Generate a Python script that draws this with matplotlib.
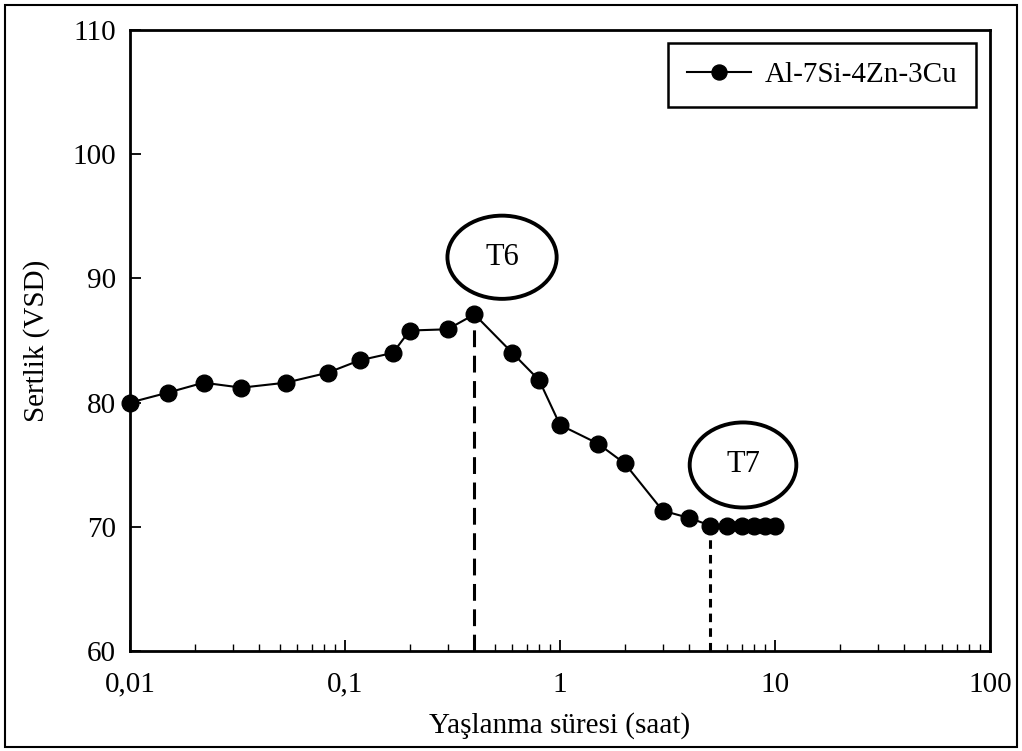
import matplotlib.pyplot as plt
from matplotlib.patches import Ellipse, Rectangle
from matplotlib.ticker import FixedLocator, LogLocator, NullFormatter

plt.rcParams['font.family'] = ['Liberation Serif', 'DejaVu Serif']

# yaslanma suresi (saat) ve sertlik (VSD)
sure = [0.01, 0.015, 0.022, 0.033, 0.053, 0.083, 0.117, 0.167, 0.2, 0.3, 0.4,
        0.6, 0.8, 1, 1.5, 2, 3, 4, 5, 6, 7, 8, 9, 10]
sertlik = [80.0, 80.8, 81.6, 81.2, 81.6, 82.4, 83.4, 84.0, 85.8, 85.9, 87.1,
           84.0, 81.8, 78.2, 76.7, 75.1, 71.3, 70.7, 70.1, 70.1, 70.1, 70.1, 70.1, 70.1]
seri_adi = 'Al-7Si-4Zn-3Cu'

# T6 / T7 noktalari
t6_sure, t6_sertlik = 0.4, 87.1
t7_sure, t7_sertlik = 5, 70.1

x_ticks = [0.01, 0.1, 1, 10, 100]
x_labels = ['0,01', '0,1', '1', '10', '100']
y_ticks = [60, 70, 80, 90, 100, 110]

fig = plt.figure(figsize=(10.22, 7.51), dpi=100)
ax = fig.add_axes([0.1272, 0.1332, 0.8415, 0.8269])

# dis cerceve
fig.patches.append(Rectangle((0.005, 0.005), 0.990, 0.988, transform=fig.transFigure,
                             fill=False, edgecolor='black', linewidth=1.5))

ax.plot(sure, sertlik, color='black', linewidth=1.5, marker='o', markersize=12,
        label=seri_adi, clip_on=False, zorder=3)

ax.plot([t6_sure, t6_sure], [60, t6_sertlik], color='black', linewidth=2.2,
        linestyle=(0, (5.5, 2.8)), zorder=2)
ax.plot([t7_sure, t7_sure], [60, t7_sertlik], color='black', linewidth=2.2,
        linestyle=(0, (2.8, 2.0)), zorder=2)

for (cx, cy, w, h, txt) in [(0.4326, 0.634, 0.127, 0.134, 'T6'),
                            (0.7128, 0.2995, 0.124, 0.137, 'T7')]:
    ax.add_patch(Ellipse((cx, cy), w, h, transform=ax.transAxes, fill=False,
                         edgecolor='black', linewidth=2.8, zorder=4))
    ax.text(cx, cy, txt, transform=ax.transAxes, ha='center', va='center',
            fontsize=22, zorder=5)

ax.set_xscale('log')
ax.set_xlim(0.01, 100)
ax.set_ylim(60, 110)
ax.xaxis.set_major_locator(FixedLocator(x_ticks))
ax.set_xticklabels(x_labels)
ax.xaxis.set_minor_locator(LogLocator(base=10, subs=range(2, 10)))
ax.xaxis.set_minor_formatter(NullFormatter())
ax.set_yticks(y_ticks)

ax.tick_params(axis='both', which='major', direction='in', length=8, width=1.3,
               labelsize=21, colors='black')
ax.tick_params(axis='x', which='major', pad=15)
ax.tick_params(axis='y', which='major', pad=10)
ax.tick_params(axis='x', which='minor', direction='in', length=5, width=1.0)
ax.tick_params(axis='y', which='minor', left=False)

for s in ax.spines.values():
    s.set_linewidth(2.0)

ax.set_xlabel('Yaşlanma süresi (saat)', fontsize=21, labelpad=10)
ax.set_ylabel('Sertlik (VSD)', fontsize=21, labelpad=16)

leg = ax.legend(loc='upper right', fontsize=21, fancybox=False, frameon=True,
                edgecolor='black', framealpha=1, handlelength=2.2,
                handletextpad=0.45, borderpad=0.65, borderaxespad=0,
                markerscale=0.9, bbox_to_anchor=(0.9837, 0.979))
leg.get_frame().set_linewidth(1.8)

fig.savefig('out.png', dpi=100)
